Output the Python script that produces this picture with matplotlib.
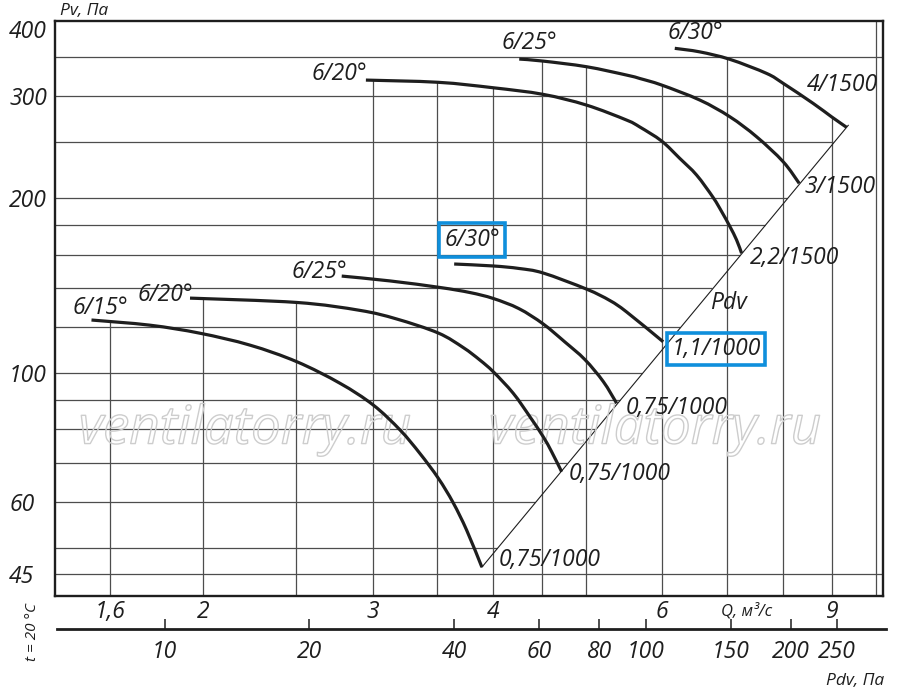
import numpy as np
import matplotlib
matplotlib.use("Agg")
import matplotlib.pyplot as plt
import matplotlib.patheffects as pe
from matplotlib.path import Path
from matplotlib.patches import PathPatch
from matplotlib.ticker import NullLocator
from matplotlib.transforms import ScaledTranslation

# ---------------- data ----------------
# lower group (1000 rpm)
q_615a = [1.532, 1.762, 1.986, 2.238, 2.503, 2.776, 3.005, 3.204, 3.360, 3.511, 3.638, 3.758, 3.897]
p_615a = [123.4, 120.9, 117.1, 111.7, 104.6, 96.0, 88.1, 79.8, 72.7, 65.9, 59.8, 53.6, 46.3]

q_620a = [1.939, 2.504, 2.912, 3.179, 3.511, 3.728, 3.878, 4.005, 4.200, 4.371, 4.512, 4.604, 4.716]
p_620a = [134.6, 132.3, 128.2, 123.9, 117.2, 110.6, 105.3, 100.5, 92.3, 84.1, 77.7, 73.2, 67.6]

q_625a = [2.787, 3.128, 3.526, 3.788, 4.005, 4.258, 4.512, 4.753, 4.985, 5.209, 5.379]
p_625a = [146.9, 144.1, 140.4, 137.6, 134.4, 129.1, 121.5, 113.1, 105.5, 96.7, 88.7]

q_630a = [3.647, 4.005, 4.258, 4.512, 5.005, 5.293, 5.509, 6.012]
p_630a = [154.1, 152.9, 151.4, 148.7, 139.5, 133.3, 127.4, 113.2]

# upper group (1500 rpm)
q_620b = [2.953, 3.511, 4.005, 4.512, 5.005, 5.509, 5.686, 5.989, 6.255, 6.512,
          6.775, 6.918, 7.052, 7.166, 7.252]
p_620b = [319.6, 316.8, 310.0, 302.0, 289.4, 272.7, 265.3, 251.0, 234.3, 219.3,
          200.6, 189.4, 178.8, 169.5, 160.8]

q_625b = [4.261, 4.512, 5.005, 5.509, 5.686, 5.989, 6.564, 7.052, 7.516, 8.010, 8.323]
p_625b = [347.4, 344.6, 337.0, 326.0, 321.6, 313.4, 295.2, 276.3, 255.3, 231.2, 212.2]

q_630b = [6.181, 6.564, 7.052, 7.698, 8.010, 8.605, 8.992, 9.322]
p_630b = [362.5, 357.4, 347.0, 328.2, 315.5, 291.4, 276.3, 265.0]

angle_labels = ["6/15°", "6/20°", "6/25°", "6/30°", "6/20°", "6/25°", "6/30°"]
motor_labels = ["0,75/1000", "0,75/1000", "0,75/1000", "1,1/1000",
                "2,2/1500", "3/1500", "4/1500"]

q_ticks = [1.6, 2, 3, 4, 6, 9]
q_tick_labels = ["1,6", "2", "3", "4", "6", "9"]
p_ticks = [45, 60, 100, 200, 300, 400]
p_tick_labels = ["45", "60", "100", "200", "300", "400"]
q_grid = [1.6, 2, 2.5, 3, 3.5, 4, 4.5, 5, 6, 7, 8, 9, 10]
p_grid = [45, 50, 60, 70, 80, 90, 100, 120, 140, 160, 180, 200, 250, 300, 350]
pdv_ticks = [10, 20, 40, 60, 80, 100, 150, 200, 250]
PDV_COEF = 3.01   # Pdv = PDV_COEF * Q^2  (Па, Q in m3/s)

curves_q = [q_615a, q_620a, q_625a, q_630a, q_620b, q_625b, q_630b]
curves_p = [p_615a, p_620a, p_625a, p_630a, p_620b, p_625b, p_630b]

# ---------------- style ----------------
FONT = "Open Sans"
INK = "#1e1e1e"
GRID = "#4d4d4d"
BLUE = "#0f8fdc"
XMIN, XMAX = 1.404, 10.17
YMIN, YMAX = 41.3, 404.0
FS = 16.5

# label offsets in pixels (dx, dy) from curve start / end
start_off = [(9, 12), (-25, 3), (-22, 4), (18, 24), (-27, 6), (10, 16), (21, 15)]
end_off = [(68, 7), (58, -2), (60, -5), (53, -7), (53, -5), (41, -4), (-4, 42)]
boxed_start = [False, False, False, True, False, False, False]
boxed_end = [False, False, False, True, False, False, False]

fig = plt.figure(figsize=(9.0, 6.95), dpi=100)
L, R, B, T = 55 / 900, 883 / 900, 1 - 596 / 695, 1 - 21 / 695
ax = fig.add_axes([L, B, R - L, T - B])
ax.set_xscale("log")
ax.set_yscale("log")
ax.set_xlim(XMIN, XMAX)
ax.set_ylim(YMIN, YMAX)


def smooth_path(Q, P):
    """Catmull-Rom curve through the read points (built in log space)."""
    pts = np.column_stack([np.log10(Q), np.log10(P)])
    n = len(pts)
    verts = [pts[0]]
    codes = [Path.MOVETO]
    for i in range(n - 1):
        p0 = pts[i - 1] if i > 0 else pts[i]
        p1, p2 = pts[i], pts[i + 1]
        p3 = pts[i + 2] if i + 2 < n else pts[i + 1]
        verts += [p1 + (p2 - p0) / 6.0, p2 - (p3 - p1) / 6.0, p2]
        codes += [Path.CURVE4] * 3
    return Path(10 ** np.array(verts), codes)


def envelope(q):
    vals = []
    for Q, P in zip(curves_q, curves_p):
        if Q[0] <= q <= Q[-1]:
            vals.append(10 ** np.interp(np.log10(q), np.log10(Q), np.log10(P)))
    return max(vals) if vals else None


ends_q = np.array([c[-1] for c in curves_q])
ends_p = np.array([c[-1] for c in curves_p])
k_diag = np.mean(ends_p / ends_q ** 2)

qfine = np.logspace(np.log10(XMIN), np.log10(XMAX), 2000)
envfine = np.array([envelope(q) if envelope(q) is not None else 0 for q in qfine])

# ---------- grid (clipped to the working area) ----------
full_h = [p_grid[0], p_grid[-1]]
for p in p_grid:
    if p in full_h:
        xe = XMAX
    else:
        qd = np.sqrt(p / k_diag)
        above = qfine[envfine >= p]
        qe = above.max() if len(above) else XMAX
        xe = min(qd, qe)
    ax.plot([XMIN, xe], [p, p], color=GRID, lw=0.9, zorder=1, solid_capstyle="butt")

for q in q_grid:
    e = envelope(q)
    top = YMAX if e is None else min(e, p_grid[-1])
    ax.plot([q, q], [YMIN, top], color=GRID, lw=0.9, zorder=1, solid_capstyle="butt")

# ---------- curves ----------
for Q, P in zip(curves_q, curves_p):
    ax.add_patch(PathPatch(smooth_path(Q, P), fill=False, ec=INK, lw=2.3, zorder=3,
                           capstyle="butt", transform=ax.transData))

# Pdv diagonal through curve end points
ax.plot([curves_q[0][-1], curves_q[-1][-1] * 1.004], [curves_p[0][-1], curves_p[-1][-1] * 1.008],
        color=INK, lw=0.8, zorder=2)

# ---------- labels ----------
tkw = dict(fontfamily=FONT, fontstyle="italic", fontsize=FS, color=INK, zorder=4)
for i, (Q, P) in enumerate(zip(curves_q, curves_p)):
    bb = dict(boxstyle="square,pad=0.22", fc="none", ec=BLUE, lw=2.6) if boxed_start[i] else None
    ax.annotate(angle_labels[i], xy=(Q[0], P[0]), xytext=start_off[i], textcoords="offset pixels",
                ha="center", va="center", bbox=bb, **tkw)
    bb = dict(boxstyle="square,pad=0.18", fc="none", ec=BLUE, lw=2.6) if boxed_end[i] else None
    ax.annotate(motor_labels[i], xy=(Q[-1], P[-1]), xytext=end_off[i], textcoords="offset pixels",
                ha="center", va="center", bbox=bb, **tkw)

ax.annotate("Pdv", xy=(curves_q[4][-1], curves_p[4][-1]), xytext=(-13, -50),
            textcoords="offset pixels", ha="center", va="center", **tkw)

# watermarks
for xf in (0.2295, 0.7246):
    ax.text(xf, 0.289, "ventilatorry.ru", transform=ax.transAxes, ha="center", va="center",
            fontfamily=FONT, fontstyle="italic", fontsize=38, color="none", zorder=2,
            path_effects=[pe.Stroke(linewidth=1.0, foreground="#cdcdcd")])

# ---------- axes styling ----------
for s in ax.spines.values():
    s.set_linewidth(1.7)
    s.set_color(INK)
ax.xaxis.set_minor_locator(NullLocator())
ax.yaxis.set_minor_locator(NullLocator())
ax.set_xticks(q_ticks)
ax.set_xticklabels(q_tick_labels)
ax.set_yticks(p_ticks)
ax.set_yticklabels(p_tick_labels)
ax.tick_params(axis="both", length=0)
ax.tick_params(axis="x", pad=3)
ax.tick_params(axis="y", pad=33)
for lab in ax.get_xticklabels() + ax.get_yticklabels():
    lab.set_fontfamily(FONT)
    lab.set_fontstyle("italic")
    lab.set_fontsize(FS)
    lab.set_color(INK)
for lab in ax.get_yticklabels():
    lab.set_ha("left")
# the top label sits a little below the frame corner
top_lab = ax.get_yticklabels()[-1]
top_lab.set_transform(top_lab.get_transform() + ScaledTranslation(0, -5 / 100, fig.dpi_scale_trans))

# ---------- Pdv scale ----------
yl = 1 - 629 / 695
ax2 = fig.add_axes([57 / 900, yl, (886 - 57) / 900, 0.0005])
ax2.set_xscale("log")
ax2.set_xlim(1.409, 10.24)
ax2.patch.set_visible(False)
for k in ("top", "left", "right"):
    ax2.spines[k].set_visible(False)
ax2.spines["bottom"].set_linewidth(2.0)
ax2.spines["bottom"].set_color(INK)
ax2.set_yticks([])
ax2.xaxis.set_minor_locator(NullLocator())
ax2.set_xticks([np.sqrt(v / PDV_COEF) for v in pdv_ticks])
ax2.set_xticklabels([str(v) for v in pdv_ticks])
ax2.tick_params(axis="x", direction="in", length=7, width=1.1, color=INK, pad=8)
for lab in ax2.get_xticklabels():
    lab.set_fontfamily(FONT)
    lab.set_fontstyle("italic")
    lab.set_fontsize(FS)
    lab.set_color(INK)

# ---------- extra texts ----------
skw = dict(fontfamily=FONT, fontstyle="italic", color=INK)
fig.text(84 / 900, 1 - 11 / 695, "Pv, Па", ha="center", va="center", fontsize=12.5, **skw)
fig.text(747 / 900, 1 - 611 / 695, "Q, м³/с", ha="center", va="center", fontsize=12, **skw)
fig.text(855 / 900, 1 - 681 / 695, "Pdv, Па", ha="center", va="center", fontsize=12.5, **skw)
fig.text(33 / 900, 1 - 632 / 695, "t = 20 °C", ha="center", va="center", rotation=90,
         fontsize=11, **skw)

fig.savefig("out.png", dpi=100)
